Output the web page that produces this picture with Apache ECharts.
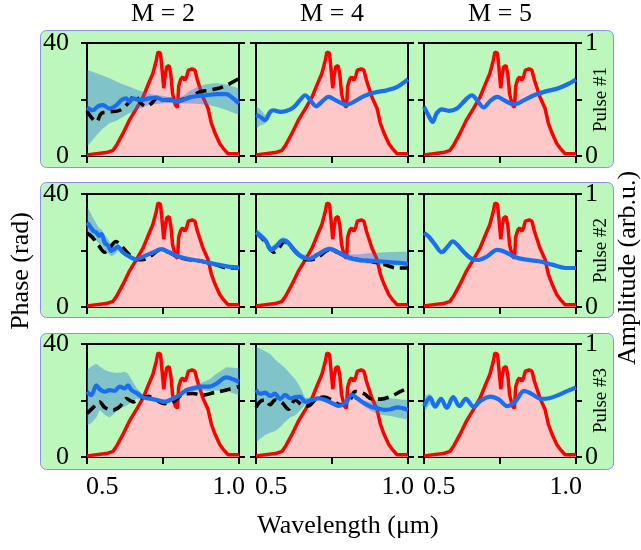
<!DOCTYPE html>
<html>
<head>
<meta charset="utf-8">
<script src="https://cdn.jsdelivr.net/npm/echarts@6/dist/echarts.min.js"></script>
<style>
html, body { margin: 0; padding: 0; background: #fff; }
#main { width: 641px; height: 550px; }
</style>
</head>
<body>
<div id="main"></div>
<script>
// tick marks / labels
var X_TICKS = [0.44, 0.74, 1.04];
var X_LABELS = [0.5, 1.0];
var PHASE_LABELS = [0, 40];
var AMP_LABELS = [0, 1];
var COLUMN_TITLES = ['M = 2', 'M = 4', 'M = 5'];
var ROW_TITLES = ['Pulse #1', 'Pulse #2', 'Pulse #3'];

// spectrum amplitude (same in every panel)
var ampX = [0.44,0.516,0.543,0.558,0.582,0.608,0.635,0.661,0.681,0.7,0.714,0.72,0.73,0.737,0.743,0.749,0.755,0.764,0.771,0.778,0.789,0.797,0.802,0.81,0.818,0.826,0.833,0.84,0.855,0.866,0.876,0.898,0.918,0.931,0.944,0.964,0.977,0.997,1.04];
var ampY = [0.01,0.03,0.05,0.1,0.2,0.32,0.42,0.52,0.63,0.73,0.85,0.92,0.91,0.75,0.6,0.72,0.79,0.8,0.72,0.55,0.45,0.43,0.62,0.68,0.7,0.67,0.7,0.76,0.77,0.76,0.67,0.52,0.42,0.29,0.21,0.11,0.07,0.02,0.02];

// pulse 1
var p11X = [0.44,0.464,0.483,0.503,0.529,0.556,0.576,0.595,0.608,0.622,0.648,0.687,0.714,0.74,0.766,0.793,0.819,0.845,0.872,0.911,0.951,0.99,1.01,1.04];
var p11Y = [17.2,16.2,17.6,18,16.8,18,19.8,20.4,19.2,20.4,19.8,20.4,20.7,19.8,20,19.2,19.8,20.7,21.2,21.5,21.9,21.9,20.9,18.6];
var p11Lo = [3.3,5.8,7.9,9.7,11.6,12.5,13.5,14.5,15.1,15.7,16.8,18.1,18.4,18.7,18.8,18.6,18.6,18.6,18.5,18.1,17.4,16.3,15.6,14.5];
var p11Hi = [30.4,29.7,29.1,28.4,27.5,26.4,25.6,25,24.5,24,23.1,22,21.6,21.2,20.8,20.5,21.3,23,24.3,25.4,25.8,25.3,24.8,23.9];
var d11X = [0.44,0.477,0.497,0.53,0.569,0.608,0.628,0.654,0.674,0.694,0.72,0.753,0.793,0.845,0.885,0.924,0.977,1.04];
var d11Y = [16,12.1,15.1,15.6,16.2,19.2,21.5,18.6,17.6,18.6,20.7,19.8,19.8,20.7,22.7,23.3,24.5,27.4];

var p12X = [0.44,0.456,0.476,0.496,0.509,0.535,0.562,0.588,0.614,0.634,0.654,0.678,0.7,0.727,0.753,0.78,0.8,0.826,0.866,0.905,0.958,0.998,1.04];
var p12Y = [14.5,13.9,12.7,15.6,16.2,15.6,16,17.2,19.8,21.5,19.8,17.6,19.2,20.9,19.8,18.6,18.2,19.2,21.2,22.4,23.3,24.5,27.1];
var p12Lo = [9.6,10.8,11.4,14.8,15.8];
var p12Hi = [17.6,16.6,14.5,16.4,16.6];

var p13X = [0.44,0.457,0.474,0.49,0.51,0.537,0.57,0.603,0.629,0.649,0.676,0.702,0.729,0.755,0.782,0.802,0.835,0.874,0.914,0.967,1.007,1.04];
var p13Y = [17.4,14.5,12.1,15.1,16.5,16,16.8,19.8,21.5,19.8,17.2,19.5,20.9,19.8,18.6,18.4,19.8,21.5,22.7,23.9,25.4,27.1];

// pulse 2
var p21X = [0.44,0.45,0.464,0.477,0.487,0.497,0.51,0.523,0.536,0.549,0.562,0.582,0.608,0.635,0.661,0.701,0.733,0.766,0.806,0.845,0.898,0.951,1.003,1.04];
var p21Y = [29.9,28.8,27,26.4,25.2,25.8,22.8,21.7,19.9,20.5,21.3,19.3,17.8,16.9,17.8,19.3,20.5,19.3,17.8,16.9,16.1,15.1,14.2,14];
var p21Lo = [25,24.5,23.5,23.5,22.5,22,20,19,18,18.5,19.8,18.8];
var p21Hi = [35.5,34,31.5,29.5,28,27.5,25.5,24,22,22,22.8,19.8];

var p22X = [0.44,0.46,0.48,0.499,0.519,0.545,0.565,0.592,0.618,0.651,0.684,0.73,0.776,0.803,0.842,0.882,0.921,0.974,1.014,1.04];
var p22Y = [26.5,25,23.3,20.2,21.4,23.6,23,20,17.9,17,18.6,20.6,18.8,17.6,16.7,16.4,16.2,15.8,15.5,15.2];
var p22Lo = [25,23.6,22,19,20.2,22.4,21.8,18.8,16.8,16,17.7,19.8,17.8,16.5,15.8,15.4,15,14.8,14.8,14.5];
var p22Hi = [28,26.4,24.6,21.4,22.6,24.8,24.2,21.2,19,18,19.5,21.4,19.8,18.8,18.6,19,19.2,19.5,19.6,19.6];

// true phase of pulse 2 (also the M = 5 result)
var t2X = [0.44,0.46,0.486,0.51,0.532,0.554,0.571,0.598,0.63,0.657,0.689,0.729,0.762,0.801,0.84,0.893,0.946,0.998,1.04];
var t2Y = [26.2,24.8,21.8,19.4,21.2,23.2,22.1,19.4,17,16.7,17.9,20.2,19.4,17.6,16.8,16.2,15,13.8,13.8];

// pulse 3
var p31X = [0.44,0.457,0.477,0.49,0.51,0.529,0.549,0.569,0.589,0.602,0.615,0.635,0.661,0.687,0.72,0.747,0.773,0.799,0.832,0.858,0.891,0.924,0.951,0.99,1.016,1.04];
var p31Y = [23.1,21.9,25.4,24,23.1,23.7,23.4,24.9,24.3,25.4,23.7,22.7,21.1,20.7,20.1,19.5,20.4,21.5,23.7,24.3,24.9,24.9,26,28.2,27.5,26.6];
var p31Lo = [11.2,12,14,16.6,15,14,15.5,17.2,17.8,18.5,19.5,20.6,20.2,19.9,19.3,18.7,19.6,20.7,22.9,23.4,23.5,23.3,23.5,23.5,22.6,21.9];
var p31Hi = [30.8,32,33,32,30.8,30.2,29.8,29.8,30.2,29.5,27.5,24.5,22,21.5,20.9,20.3,21.2,22.3,24.5,25.2,26.3,27.5,29.5,31.8,31.6,31.4];
var d31X = [0.44,0.464,0.49,0.51,0.543,0.569,0.595,0.622,0.648,0.681,0.714,0.747,0.78,0.819,0.858,0.898,0.937,0.99,1.04];
var d31Y = [15.4,17.5,19.5,17.5,16.6,17.8,20.7,19.5,20.7,21.5,20.1,18.9,19.5,22.2,22.5,21.9,22.7,23.7,24.9];

var p32X = [0.44,0.456,0.476,0.496,0.515,0.535,0.555,0.575,0.595,0.614,0.634,0.661,0.687,0.714,0.74,0.766,0.793,0.819,0.839,0.866,0.892,0.918,0.945,0.971,0.998,1.018,1.04];
var p32Y = [23.8,22.4,22.8,21.6,22.4,20.5,22,20.8,21.2,21.4,19.6,20.2,20.8,20.2,19.1,18.1,19.1,22,20.8,19.1,17.9,17.3,16.7,16.9,17.6,17.3,16.7];
var p32Lo = [5,6.5,7.8,8.6,9.2,10.5,12.5,14,14.8,16.5,18.5,19.4,20,19.4,18.3,17.3,18.3,21.2,19.8,18,16.5,15.2,14.8,14.5,14,13.6,13.2];
var p32Hi = [39,38.3,37.4,36.5,34.5,33,31.5,29.5,27.5,24.8,21,21,21.6,21,19.9,19,20,22.8,21.6,20,19.5,20,20.6,20.8,20.5,20.3,20.2];
var d32X = [0.44,0.456,0.476,0.496,0.515,0.542,0.568,0.595,0.621,0.647,0.674,0.707,0.74,0.773,0.806,0.832,0.866,0.899,0.932,0.971,1.011,1.04];
var d32Y = [17.6,19.6,20.2,18.5,20.2,19.3,16.9,20.2,18.5,18.1,20.2,21.2,20.2,18.5,19.6,23.2,22.4,20.5,20.5,21.4,23.2,24.4];

var p33X = [0.44,0.464,0.484,0.507,0.53,0.555,0.58,0.605,0.636,0.665,0.702,0.735,0.768,0.802,0.835,0.868,0.901,0.934,0.967,1.007,1.04];
var p33Y = [18,21,17.8,20.6,17.4,21.2,18,20.6,17.8,20,21.4,20.4,18,19.8,23.4,22.2,20.6,20.8,21.8,23.4,24.6];
var p33Lo = [15.8,18.8,16.8];
var p33Hi = [21.6,22.4,19.2];

var panels = [
    {x: p11X, y: p11Y, lo: p11Lo, hi: p11Hi, dx: d11X, dy: d11Y},
    {x: p12X, y: p12Y, lo: p12Lo, hi: p12Hi},
    {x: p13X, y: p13Y},
    {x: p21X, y: p21Y, lo: p21Lo, hi: p21Hi, dx: t2X, dy: t2Y},
    {x: p22X, y: p22Y, lo: p22Lo, hi: p22Hi, dx: t2X, dy: t2Y},
    {x: t2X, y: t2Y},
    {x: p31X, y: p31Y, lo: p31Lo, hi: p31Hi, dx: d31X, dy: d31Y},
    {x: p32X, y: p32Y, lo: p32Lo, hi: p32Hi, dx: d32X, dy: d32Y},
    {x: p33X, y: p33Y, lo: p33Lo, hi: p33Hi}
];

var FONT = '"Liberation Serif", "Times New Roman", serif';
var COL_LEFT = [87, 256, 424];
var ROW_TOP = [43, 194, 344];
var PW = 152, PH = 113;
var BOX_TOP = [30, 182, 333];
var BOX_H = [137, 135, 136];

function pairs(xs, ys) {
    return ys.map(function (v, i) { return [xs[i], v]; });
}

// band polygon: upper edge left->right, lower edge right->left, through the axis scales
function bandRenderer(bx, lo, hi) {
    return function (params, api) {
        if (params.dataIndex !== 0) return null;
        var pts = [];
        for (var i = 0; i < bx.length; i++) pts.push(api.coord([bx[i], hi[i]]));
        for (var j = bx.length - 1; j >= 0; j--) pts.push(api.coord([bx[j], lo[j]]));
        return {
            type: 'polygon',
            shape: {points: pts},
            style: {fill: 'rgba(37,120,220,0.4)', stroke: null}
        };
    };
}

var grids = [], xAxes = [], yAxes = [], series = [], graphics = [];

for (var r = 0; r < 3; r++) {
    graphics.push({
        type: 'rect', z: -10,
        shape: {x: 40.5, y: BOX_TOP[r] + 0.5, width: 573, height: BOX_H[r], r: 6},
        style: {fill: '#bcf7bc', stroke: '#8f8ff0', lineWidth: 1}
    });
    for (var c = 0; c < 3; c++) {
        var g = r * 3 + c;
        var p = panels[g];
        grids.push({
            left: COL_LEFT[c], top: ROW_TOP[r], width: PW, height: PH,
            show: true, borderColor: '#000', borderWidth: 2, backgroundColor: 'transparent'
        });
        xAxes.push({
            type: 'value', gridIndex: g, min: 0.44, max: 1.04,
            axisLine: {show: false}, splitLine: {show: false},
            axisTick: {show: true, customValues: X_TICKS, length: 7, lineStyle: {color: '#000', width: 2}},
            axisLabel: {
                show: r === 2, customValues: X_LABELS, margin: 17,
                formatter: function (v) { return v.toFixed(1); },
                fontFamily: FONT, fontSize: 26, color: '#000'
            }
        });
        yAxes.push({
            type: 'value', gridIndex: g, position: 'left', min: 0, max: 40, interval: 20,
            axisLine: {show: false}, splitLine: {show: false},
            axisTick: {show: true, length: 6, lineStyle: {color: '#000', width: 2}},
            axisLabel: {show: c === 0, customValues: PHASE_LABELS, margin: 18, fontFamily: FONT, fontSize: 26, color: '#000'}
        });
        yAxes.push({
            type: 'value', gridIndex: g, position: 'right', min: 0, max: 1, interval: 0.5,
            axisLine: {show: false}, splitLine: {show: false},
            axisTick: {show: true, length: 6, lineStyle: {color: '#000', width: 2}},
            axisLabel: {show: c === 2, customValues: AMP_LABELS, margin: 9, fontFamily: FONT, fontSize: 26, color: '#000'}
        });

        // amplitude
        series.push({
            type: 'line', xAxisIndex: g, yAxisIndex: 2 * g + 1, z: 2,
            data: pairs(ampX, ampY), symbol: 'none',
            lineStyle: {color: '#ff0000', width: 3.5},
            areaStyle: {color: '#ffc8c8', opacity: 1}
        });
        // uncertainty band
        if (p.lo) {
            var bx = p.x.slice(0, p.lo.length);
            series.push({
                type: 'custom', coordinateSystem: 'cartesian2d',
                xAxisIndex: g, yAxisIndex: 2 * g, z: 3,
                data: p.lo.map(function (v, i) { return [bx[i], v, p.hi[i]]; }),
                encode: {x: 0, y: [1, 2]},
                renderItem: bandRenderer(bx, p.lo, p.hi),
                silent: true
            });
        }
        // true phase
        if (p.dx) {
            series.push({
                type: 'line', xAxisIndex: g, yAxisIndex: 2 * g, z: 4,
                data: pairs(p.dx, p.dy), symbol: 'none', smooth: 0.35,
                lineStyle: {color: '#000', width: 3.6, type: [11, 6]}
            });
        }
        // retrieved phase
        series.push({
            type: 'line', xAxisIndex: g, yAxisIndex: 2 * g, z: 5,
            data: pairs(p.x, p.y), symbol: 'none', smooth: 0.35,
            lineStyle: {color: '#1a6ff0', width: 4.2}
        });
    }
    graphics.push({
        type: 'text', x: 601, y: ROW_TOP[r] + PH / 2, rotation: Math.PI / 2,
        style: {text: ROW_TITLES[r], fontFamily: FONT, fontSize: 19, fill: '#000', align: 'center', verticalAlign: 'middle'}
    });
}

for (var c2 = 0; c2 < 3; c2++) {
    graphics.push({
        type: 'text', x: COL_LEFT[c2] + PW / 2, y: 14,
        style: {text: COLUMN_TITLES[c2], fontFamily: FONT, fontSize: 26, fill: '#000', align: 'center', verticalAlign: 'middle'}
    });
}
graphics.push({
    type: 'text', x: 21, y: 271, rotation: Math.PI / 2,
    style: {text: 'Phase (rad)', fontFamily: FONT, fontSize: 26, fill: '#000', align: 'center', verticalAlign: 'middle'}
});
graphics.push({
    type: 'text', x: 628, y: 268, rotation: Math.PI / 2,
    style: {text: 'Amplitude (arb.u.)', fontFamily: FONT, fontSize: 26, fill: '#000', align: 'center', verticalAlign: 'middle'}
});
graphics.push({
    type: 'text', x: 348, y: 526,
    style: {text: 'Wavelength (μm)', fontFamily: FONT, fontSize: 26, fill: '#000', align: 'center', verticalAlign: 'middle'}
});

var myChart = echarts.init(document.getElementById('main'));
myChart.setOption({
    animation: false,
    grid: grids,
    xAxis: xAxes,
    yAxis: yAxes,
    series: series,
    graphic: {elements: graphics}
});
</script>
</body>
</html>
